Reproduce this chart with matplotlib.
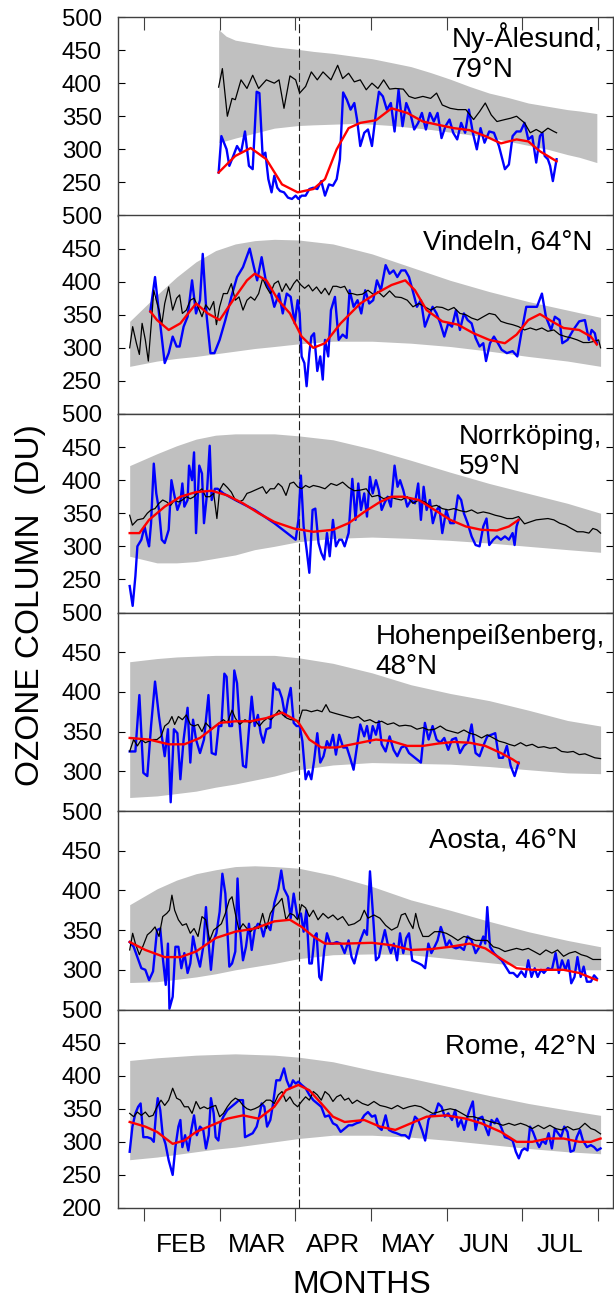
import matplotlib
matplotlib.use("Agg")
import matplotlib.pyplot as plt
from matplotlib.ticker import FixedLocator, NullFormatter

plt.rcParams['font.family'] = ['Liberation Sans', 'DejaVu Sans']

# ---------------- axis definitions (day of year 2020) ----------------
MONTH_STARTS = [32.0, 62.4, 92.8, 123.3, 153.7, 184.1, 214.5]
MONTH_LABELS = ['FEB', 'MAR', 'APR', 'MAY', 'JUN', 'JUL']
DASH_DAY = 94.3
XLIM = (21.5, 220.5)

STATION_NAMES = ["Ny-Ålesund,\n79°N", "Vindeln, 64°N", "Norrköping,\n59°N",
                 "Hohenpeißenberg,\n48°N", "Aosta, 46°N", "Rome, 42°N"]
Y_BOTTOMS = [200, 200, 200, 250, 250, 200]

# ---------------- climatological band ----------------
NY_BAND_DAYS = [62.0, 65.0, 68.7, 84.4, 94.1, 100.1, 108.0, 115.8, 123.7, 131.6, 139.4,
                147.3, 155.2, 163.0, 170.9, 178.8, 186.6, 194.5, 202.4, 207.1, 214.2]
NY_BAND_HI = [481, 471, 465, 455, 451, 448, 445, 441, 437, 431, 425, 416, 406, 395, 385, 378, 370, 365, 360, 358, 354]
NY_BAND_LO = [310, 313, 317, 332, 336, 337, 338, 339, 338, 336, 333, 330, 326, 322, 318, 312, 306, 300, 292, 288, 280]

BAND_DAYS = [26.2, 37.2, 45.1, 52.9, 60.8, 68.7, 76.5, 84.4, 94.1, 108.0, 123.7,
             139.4, 155.2, 170.9, 186.6, 202.4, 215.7]
VIN_BAND_HI = [340, 380, 407, 430, 447, 457, 462, 464, 463, 457, 442, 422, 402, 385, 370, 357, 346]
VIN_BAND_LO = [272, 280, 284, 287, 291, 295, 299, 302, 306, 310, 310, 307, 302, 295, 287, 280, 272]
NOR_BAND_HI = [422, 440, 452, 462, 468, 470, 470, 470, 467, 461, 447, 430, 412, 395, 380, 365, 350]
NOR_BAND_LO = [285, 275, 275, 277, 282, 287, 295, 300, 307, 312, 314, 312, 309, 305, 300, 295, 291]
HOH_BAND_HI = [438, 442, 444, 445, 446, 446, 446, 446, 443, 436, 424, 409, 398, 389, 377, 364, 357]
HOH_BAND_LO = [267, 269, 272, 275, 280, 284, 289, 294, 302, 308, 311, 310, 309, 306, 302, 298, 297]
AOS_BAND_HI = [382, 402, 413, 421, 426, 430, 431, 430, 428, 419, 405, 388, 375, 361, 348, 337, 329]
AOS_BAND_LO = [284, 285, 288, 291, 295, 300, 304, 308, 314, 319, 320, 319, 314, 309, 304, 300, 300]
ROM_BAND_HI = [423, 427, 429, 431, 432, 433, 432, 431, 428, 421, 408, 396, 383, 370, 358, 348, 340]
ROM_BAND_LO = [273, 277, 281, 285, 289, 292, 296, 300, 305, 310, 310, 307, 302, 296, 290, 285, 282]

# ---------------- Ny-Ålesund ----------------
NY_BLACK = [(62.0,394),(63.5,422),(65.5,350),(67.4,377),(68.7,375),(71.0,405),(73.4,392),(75.7,412),(78.1,392),(81.2,405),(84.4,400),(86.3,405),(88.3,362),(90.7,411),(93.0,405),(94.6,385),(97.0,395),(99.3,417),(101.7,405),(104.0,417),(107.2,405),(109.9,427),(111.9,407),(114.3,415),(116.6,402),(119.0,405),(121.4,390),(123.7,400),(126.1,392),(128.4,405),(130.8,391),(133.1,392),(136.3,391),(138.6,380),(141.0,377),(144.2,380),(147.3,377),(149.7,385),(152.0,367),(155.2,362),(158.3,360),(161.5,360),(164.6,345),(167.0,357),(169.3,370),(171.7,352),(174.0,342),(177.2,345),(179.5,347),(181.9,350),(185.1,340),(187.4,325),(189.8,330),(192.1,325),(194.5,332),(196.9,327),(198.0,325)]
NY_BLUE = [(62.0,265),(63.1,320),(65.2,300),(66.3,275),(67.9,290),(69.4,305),(71.0,295),(72.6,327),(74.2,275),(75.7,270),(77.3,387),(78.4,385),(79.7,290),(80.8,295),(82.0,255),(83.3,235),(84.4,260),(85.6,242),(86.7,237),(88.3,235),(89.9,227),(91.5,225),(93.0,230),(94.1,225),(95.4,230),(97.0,230),(98.5,240),(100.1,242),(101.7,240),(103.3,252),(104.8,230),(106.4,247),(108.0,245),(109.5,255),(110.8,285),(112.1,386),(113.6,375),(115.1,360),(116.6,370),(117.7,345),(119.0,305),(120.6,325),(122.1,330),(123.7,305),(125.3,355),(126.5,387),(128.1,380),(129.7,360),(131.3,370),(132.8,327),(134.4,390),(136.0,335),(137.5,370),(139.1,355),(140.7,330),(142.3,340),(143.8,355),(145.4,330),(147.0,355),(148.6,342),(150.1,355),(151.7,317),(153.3,335),(154.9,345),(156.4,325),(158.0,315),(159.6,340),(161.2,325),(162.7,360),(164.3,325),(165.9,300),(167.4,332),(169.0,310),(170.9,327),(172.8,325),(174.8,305),(177.2,270),(178.8,277),(180.3,320),(181.9,327),(183.5,327),(185.1,340),(186.6,315),(188.2,320),(189.8,280),(191.3,320),(192.3,325),(193.2,290),(194.5,285),(195.4,275),(196.5,252),(198.0,285)]
NY_RED = [(62.0,265),(68.7,290),(74.9,302),(81.2,285),(87.5,247),(93.8,235),(100.1,240),(104.8,255),(109.5,300),(114.3,332),(119.0,340),(125.3,344),(131.6,362),(137.9,355),(144.2,342),(150.4,337),(156.7,332),(163.0,329),(169.3,320),(175.6,309),(181.9,315),(186.6,312),(191.3,297),(198.0,282)]

# ---------------- Vindeln ----------------
VIN_BLACK = [(26.2,300),(27.4,332),(28.9,307),(30.1,290),(31.2,337),(32.5,312),(33.7,280),(34.8,332),(35.9,387),(36.9,372),(38.0,357),(39.1,335),(40.3,367),(41.9,392),(43.5,357),(45.1,375),(46.3,380),(47.4,352),(49.0,357),(50.6,372),(52.1,375),(53.7,362),(55.3,347),(56.8,365),(58.4,357),(60.0,370),(61.1,335),(62.4,362),(63.9,382),(65.5,382),(67.1,397),(68.7,372),(70.2,377),(71.8,357),(73.4,372),(74.9,377),(76.5,372),(78.1,382),(79.7,405),(81.2,392),(82.8,382),(84.4,397),(86.0,401),(87.5,385),(89.1,397),(90.7,387),(92.2,397),(93.5,403),(95.1,395),(96.6,390),(98.2,395),(99.8,386),(101.4,392),(103.3,382),(104.8,390),(106.4,380),(108.0,393),(109.5,393),(111.1,391),(112.7,393),(114.3,382),(115.8,382),(117.7,380),(119.8,381),(122.1,387),(124.5,380),(126.1,385),(128.4,377),(130.8,386),(133.1,377),(135.5,376),(137.9,372),(140.2,362),(142.6,367),(145.0,362),(147.3,357),(149.7,362),(152.0,361),(154.4,357),(156.7,361),(159.1,352),(161.5,350),(163.8,345),(166.2,342),(168.5,347),(170.9,352),(173.3,350),(175.6,340),(178.0,337),(180.3,335),(182.7,332),(185.1,327),(187.4,330),(189.8,327),(192.1,330),(194.5,325),(196.9,327),(199.2,320),(201.6,317),(203.9,315),(206.3,312),(208.7,308),(211.0,308),(213.4,310),(214.9,312),(215.7,300)]
VIN_BLUE = [(34.5,355),(36.4,407),(38.0,352),(40.3,277),(41.9,292),(43.5,317),(45.1,302),(46.3,302),(47.9,332),(49.5,347),(51.3,402),(52.9,352),(54.5,372),(55.6,442),(57.2,347),(58.7,292),(60.3,292),(62.4,312),(64.7,342),(67.1,377),(69.4,407),(71.8,422),(74.5,450),(76.2,422),(77.5,402),(79.3,437),(81.2,397),(82.8,387),(84.4,362),(86.3,382),(87.8,352),(89.4,382),(91.0,377),(92.6,337),(93.8,372),(94.6,352),(95.4,287),(96.5,277),(97.4,242),(98.5,292),(99.3,317),(100.4,322),(101.7,265),(102.9,287),(103.9,252),(104.8,312),(106.1,287),(107.2,357),(108.8,377),(110.3,312),(111.9,320),(113.5,315),(114.7,387),(116.3,362),(117.9,372),(119.4,352),(121.0,387),(122.6,367),(124.2,372),(125.7,402),(127.3,387),(129.2,425),(130.8,412),(132.4,417),(133.9,407),(135.5,417),(137.1,417),(138.6,407),(140.2,385),(141.8,362),(143.4,372),(145.0,332),(146.5,347),(148.1,362),(149.7,352),(151.2,337),(152.8,317),(154.4,337),(155.9,332),(157.5,357),(159.1,327),(160.7,352),(162.2,342),(163.8,337),(165.4,315),(167.0,302),(168.5,307),(169.6,280),(171.2,307),(172.8,317),(174.4,307),(175.9,297),(178.0,292),(180.3,295),(182.2,287),(183.8,322),(185.8,362),(188.2,362),(190.1,362),(192.1,382),(193.7,347),(195.8,327),(197.3,347),(199.2,342),(200.3,307),(202.4,312),(204.7,327),(207.1,340),(209.4,342),(211.0,312),(212.1,327),(213.4,322),(214.2,307)]
VIN_RED = [(34.5,355),(37.2,342),(41.9,327),(46.6,337),(52.9,367),(57.6,352),(62.4,342),(68.7,377),(73.4,402),(76.5,412),(81.2,402),(86.0,372),(90.7,352),(95.4,317),(100.1,300),(104.8,307),(111.1,337),(119.0,367),(125.3,382),(131.6,395),(137.1,402),(141.0,387),(145.7,357),(152.0,340),(158.3,335),(164.6,322),(170.9,312),(177.2,307),(181.9,320),(186.6,342),(191.3,351),(196.1,340),(200.8,330),(207.1,327),(211.8,317),(214.2,305)]

# ---------------- Norrköping ----------------
NOR_BLACK = [(26.2,347),(27.3,332),(29.3,340),(31.7,342),(33.3,350),(34.8,355),(36.4,357),(38.0,365),(39.5,370),(41.1,367),(42.7,362),(44.3,370),(45.8,367),(47.4,370),(49.0,375),(50.6,372),(52.1,375),(53.7,382),(55.3,387),(56.8,375),(58.4,375),(60.0,380),(61.3,342),(62.4,385),(63.9,395),(65.5,389),(67.1,382),(68.7,370),(70.2,367),(71.8,370),(73.4,380),(74.9,382),(77.3,386),(79.7,390),(81.2,380),(82.8,387),(84.4,387),(86.0,395),(87.5,390),(89.1,377),(90.7,395),(92.2,397),(93.8,390),(95.4,387),(97.0,392),(98.5,389),(100.1,392),(102.5,390),(104.8,387),(107.2,395),(109.5,392),(111.9,397),(114.3,389),(116.6,384),(119.0,385),(121.4,387),(123.7,375),(126.1,377),(128.4,372),(130.8,375),(133.1,372),(135.5,370),(137.9,375),(140.2,365),(142.6,370),(145.0,367),(147.3,360),(149.7,362),(152.0,357),(154.4,355),(156.7,357),(159.1,354),(161.5,352),(163.8,355),(166.2,350),(168.5,352),(170.9,350),(173.3,347),(175.6,345),(178.0,342),(180.3,342),(182.7,345),(185.1,334),(187.4,337),(189.8,340),(192.1,341),(194.5,342),(196.9,340),(199.2,335),(201.6,332),(203.9,327),(206.3,322),(208.7,322),(211.0,320),(212.6,327),(214.2,325),(215.7,320)]
NOR_BLUE = [(26.2,240),(27.4,210),(28.5,255),(29.3,300),(30.9,310),(32.2,330),(33.3,310),(34.0,300),(34.8,335),(35.9,425),(36.9,380),(38.0,355),(39.1,310),(40.3,305),(41.9,325),(43.0,400),(44.3,375),(45.4,355),(46.6,367),(47.4,395),(48.2,360),(49.5,370),(50.1,422),(51.3,400),(52.1,442),(52.9,320),(54.2,422),(55.3,410),(56.1,335),(57.2,375),(58.4,452),(59.2,370),(60.5,387),(61.6,387),(63.9,380),(68.7,370),(76.5,355),(84.4,335),(93.0,310),(94.1,340),(95.1,407),(96.2,330),(97.4,295),(98.5,260),(99.8,355),(100.9,357),(102.2,305),(103.3,290),(104.5,280),(105.6,320),(106.7,285),(108.0,340),(109.2,300),(110.5,310),(111.6,310),(112.7,300),(114.3,320),(115.8,402),(117.1,340),(118.2,395),(119.3,355),(120.6,380),(121.7,345),(122.9,405),(124.0,380),(125.3,400),(126.4,385),(127.6,355),(128.7,365),(130.0,375),(131.3,360),(132.8,422),(134.0,390),(135.0,400),(136.3,385),(137.9,360),(139.4,370),(141.0,365),(142.3,395),(143.4,340),(144.5,390),(145.7,355),(147.0,370),(148.2,335),(149.7,355),(150.8,360),(152.0,320),(153.6,355),(155.2,335),(156.7,335),(158.3,377),(159.6,370),(160.7,350),(162.2,335),(163.8,315),(165.4,302),(167.0,300),(168.5,330),(169.8,342),(170.9,302),(172.5,310),(174.0,315),(175.6,310),(177.2,315),(178.8,310),(180.3,320),(181.1,302),(181.9,330),(182.7,340)]
NOR_RED = [(26.2,320),(30.1,320),(34.0,340),(40.3,360),(46.6,375),(52.9,382),(59.2,384),(65.5,377),(71.8,365),(78.1,350),(84.4,337),(92.2,327),(100.1,322),(108.0,325),(114.3,335),(120.6,352),(126.9,367),(131.6,375),(136.3,375),(142.6,370),(148.9,355),(155.2,340),(161.5,330),(167.7,325),(174.0,324),(178.8,330),(182.7,340)]

# ---------------- Hohenpeißenberg ----------------
HOH_BLACK = [(26.2,325),(27.8,340),(29.3,332),(30.9,340),(32.5,336),(34.0,338),(35.6,340),(37.2,340),(38.8,344),(40.3,357),(41.9,361),(43.2,369),(44.3,359),(45.8,369),(47.4,365),(49.0,371),(50.6,359),(52.1,357),(53.7,359),(55.3,350),(56.8,361),(59.2,353),(61.6,359),(63.9,365),(65.5,361),(67.4,377),(68.7,367),(70.5,359),(72.6,365),(74.6,361),(76.5,365),(78.4,357),(80.0,363),(81.6,367),(83.1,365),(84.7,371),(86.3,377),(87.8,371),(89.4,367),(91.0,365),(92.6,365),(94.1,361),(95.7,377),(97.3,377),(99.3,375),(101.7,377),(103.6,375),(105.2,384),(106.7,375),(108.8,373),(111.1,371),(113.5,369),(115.8,367),(118.2,369),(120.6,363),(122.9,365),(125.3,361),(127.6,363),(130.0,359),(132.4,361),(134.7,357),(137.1,358),(139.4,357),(141.8,353),(144.2,355),(146.5,352),(148.9,353),(151.2,357),(153.6,352),(155.9,350),(158.3,348),(160.7,352),(163.0,348),(165.4,346),(167.8,342),(170.1,346),(172.5,342),(174.8,338),(177.2,336),(178.8,334),(181.1,332),(183.5,336),(185.8,332),(188.2,334),(190.6,330),(192.9,331),(195.3,329),(197.6,330),(200.0,325),(202.4,324),(204.7,325),(207.1,321),(209.4,322),(211.8,319),(213.4,317),(215.7,316)]
HOH_BLUE = [(26.2,325),(28.5,325),(30.1,396),(31.7,298),(33.3,294),(34.8,357),(36.4,413),(38.0,369),(39.5,336),(40.3,319),(41.6,353),(42.7,261),(44.0,353),(45.4,348),(46.6,290),(47.9,340),(49.5,380),(50.6,311),(51.7,365),(52.9,340),(54.5,323),(56.1,340),(57.9,396),(59.2,323),(60.8,321),(62.0,357),(63.1,357),(64.3,423),(65.2,419),(66.3,357),(67.4,357),(68.3,427),(69.4,411),(70.5,357),(71.8,307),(73.0,305),(74.3,357),(75.3,394),(76.5,357),(77.8,371),(78.9,348),(80.0,336),(81.2,353),(82.8,355),(84.1,411),(85.2,403),(86.3,403),(87.5,392),(88.8,369),(89.9,390),(91.0,405),(92.2,361),(93.4,357),(94.6,357),(95.7,338),(97.0,290),(98.2,300),(99.3,290),(100.4,313),(101.7,348),(102.9,311),(104.2,319),(105.6,338),(106.7,330),(108.0,346),(109.2,321),(110.5,346),(112.1,330),(113.6,330),(115.1,315),(116.3,302),(117.7,332),(119.0,359),(120.6,344),(121.7,357),(122.9,336),(124.0,357),(125.3,346),(126.5,363),(127.6,334),(129.2,325),(130.8,344),(132.4,327),(133.9,319),(135.5,330),(137.1,332),(138.6,323),(140.2,319),(141.8,315),(143.4,311),(145.0,361),(146.5,340),(148.1,357),(149.7,340),(151.2,336),(152.8,342),(154.4,327),(155.9,340),(157.5,342),(159.1,323),(160.7,332),(162.2,336),(163.8,359),(165.4,323),(167.0,319),(168.5,332),(170.1,344),(171.7,346),(173.3,348),(174.8,317),(176.4,317),(178.0,332),(179.5,307),(181.1,294),(182.7,311)]
HOH_RED = [(26.2,342),(34.0,340),(41.9,334),(48.2,334),(54.5,342),(62.4,361),(68.7,363),(74.9,363),(81.2,367),(87.5,374),(93.8,363),(98.5,340),(103.3,330),(109.5,330),(115.8,334),(125.3,340),(131.6,338),(137.9,332),(144.2,332),(150.4,335),(156.7,337),(163.0,336),(169.3,332),(175.6,323),(180.3,315),(182.7,310)]

# ---------------- Aosta ----------------
AOS_BLACK = [(26.2,325),(27.4,346),(28.5,333),(30.1,319),(31.7,331),(33.3,344),(34.8,348),(36.4,354),(38.0,342),(39.5,367),(41.1,371),(42.2,375),(43.2,394),(44.3,375),(45.8,363),(47.4,356),(49.0,358),(50.6,346),(52.1,352),(53.7,342),(55.3,367),(56.8,363),(58.4,337),(60.0,350),(61.6,354),(63.1,358),(64.7,371),(66.3,388),(67.4,392),(68.7,371),(70.2,350),(71.8,358),(73.4,352),(74.9,348),(76.5,354),(78.1,352),(79.7,371),(81.2,352),(82.8,371),(84.4,379),(86.0,384),(87.5,390),(89.1,363),(90.7,371),(92.2,369),(93.8,363),(95.4,382),(97.0,378),(98.5,367),(100.1,375),(102.0,363),(104.0,371),(106.1,365),(108.0,369),(109.9,363),(111.9,367),(114.3,356),(116.6,358),(119.0,363),(120.6,375),(122.1,365),(124.5,369),(126.9,365),(129.2,356),(131.6,350),(134.0,354),(135.5,369),(137.1,371),(138.6,361),(140.2,352),(141.3,371),(142.6,354),(144.2,342),(146.5,342),(148.9,348),(151.2,348),(153.6,346),(155.9,342),(158.3,337),(160.7,342),(163.0,340),(165.4,337),(167.8,337),(170.1,337),(172.5,329),(174.8,327),(177.2,323),(179.5,325),(181.9,327),(184.3,325),(186.6,327),(189.0,323),(191.3,319),(193.7,325),(196.1,321),(198.4,325),(200.8,317),(203.1,321),(205.5,323),(207.9,319),(210.2,317),(212.6,313),(215.7,313)]
AOS_BLUE = [(26.2,335),(27.8,329),(29.3,316),(30.9,302),(32.5,300),(34.0,287),(35.6,298),(37.2,350),(38.5,352),(39.5,316),(40.7,281),(41.6,333),(42.2,251),(43.5,266),(44.6,329),(45.8,329),(47.0,302),(48.2,321),(49.5,296),(50.6,308),(51.7,342),(52.9,323),(54.5,304),(55.8,329),(56.9,379),(57.6,346),(58.9,300),(60.0,337),(61.1,346),(62.4,373),(63.5,421),(64.7,396),(65.5,350),(66.3,304),(67.4,308),(68.7,323),(69.6,415),(70.5,354),(71.8,312),(73.0,329),(74.2,358),(75.3,325),(76.5,350),(77.8,358),(78.9,356),(80.0,342),(81.2,358),(82.8,350),(84.4,384),(86.0,402),(87.2,425),(88.3,402),(89.9,392),(91.0,365),(92.2,396),(93.8,365),(95.1,371),(96.2,348),(97.3,375),(98.5,308),(99.5,308),(100.6,342),(101.4,346),(102.5,291),(103.3,287),(104.5,325),(105.6,346),(106.9,333),(108.0,333),(109.5,335),(111.1,333),(112.7,321),(114.3,337),(115.5,316),(116.6,308),(117.9,325),(119.0,337),(120.6,350),(121.7,344),(122.9,424),(124.0,375),(125.3,312),(126.5,316),(127.6,333),(128.9,350),(130.0,333),(131.3,321),(132.5,333),(133.8,312),(135.0,346),(136.3,321),(137.5,340),(138.6,346),(139.9,312),(141.3,310),(142.6,308),(143.8,306),(145.1,302),(146.4,333),(147.6,321),(148.9,329),(150.1,337),(151.4,354),(152.3,346),(153.6,329),(154.9,337),(156.1,329),(157.5,327),(159.1,329),(160.7,325),(162.2,342),(163.8,337),(165.4,321),(167.0,329),(168.5,342),(169.3,333),(170.1,379),(171.2,329),(172.8,321),(174.4,316),(175.9,312),(177.5,304),(179.1,296),(180.6,296),(182.2,291),(183.8,298),(185.4,291),(186.6,312),(187.9,291),(189.2,302),(190.4,291),(191.7,300),(192.9,296),(194.5,302),(196.1,300),(197.6,321),(198.9,296),(200.2,312),(201.6,300),(202.7,312),(203.9,283),(205.2,291),(206.4,316),(207.7,291),(208.9,304),(210.2,285),(211.8,285),(213.1,293),(214.2,289)]
AOS_RED = [(26.2,335),(32.5,325),(40.3,316),(46.6,316),(52.9,323),(60.8,340),(68.7,348),(76.5,352),(84.4,361),(90.7,363),(95.4,354),(100.1,342),(104.8,333),(112.7,333),(123.7,334),(131.6,331),(139.4,325),(147.3,326),(155.2,329),(163.0,333),(169.3,327),(175.6,314),(181.9,302),(188.2,300),(194.5,300),(200.8,300),(207.1,296),(214.2,287)]

# ---------------- Rome ----------------
ROM_BLACK = [(26.2,343),(27.8,338),(29.3,345),(30.9,340),(32.5,345),(34.0,338),(35.6,340),(37.2,353),(38.8,363),(40.3,355),(41.9,363),(43.5,381),(45.1,366),(46.6,363),(48.2,353),(49.8,353),(51.3,343),(52.9,361),(54.5,350),(56.1,353),(57.6,350),(59.2,353),(60.8,355),(62.4,338),(63.9,343),(65.5,353),(67.1,361),(68.7,366),(70.2,363),(71.8,355),(73.4,350),(74.9,348),(76.5,350),(78.1,353),(79.7,358),(81.2,363),(82.8,363),(84.4,358),(86.0,371),(87.5,376),(89.1,361),(90.7,368),(92.2,358),(93.8,353),(95.4,361),(97.0,368),(98.5,363),(100.1,376),(101.7,371),(103.3,363),(104.8,376),(106.4,371),(108.0,361),(109.5,368),(111.1,371),(112.7,363),(114.3,366),(115.8,358),(117.7,363),(119.8,358),(122.1,355),(124.5,361),(126.9,355),(129.2,353),(131.6,350),(134.0,355),(136.3,350),(138.6,353),(141.0,355),(143.4,353),(145.7,348),(148.1,343),(150.4,345),(152.8,348),(155.2,350),(157.5,348),(159.9,343),(162.2,338),(164.6,338),(167.0,335),(169.3,333),(171.7,330),(174.0,328),(176.4,325),(178.8,328),(181.1,325),(183.5,328),(185.8,325),(188.2,320),(190.6,325),(192.9,320),(195.3,325),(197.6,320),(200.0,318),(202.4,323),(204.7,318),(207.1,320),(209.4,328),(211.8,320),(213.4,318),(215.7,312)]
ROM_BLUE = [(26.2,285),(27.3,323),(28.5,343),(29.6,353),(30.6,358),(31.7,307),(33.3,307),(34.8,305),(35.9,300),(36.9,348),(37.5,366),(38.5,348),(39.5,310),(40.6,297),(41.9,272),(43.5,250),(44.6,292),(45.8,323),(46.6,333),(47.4,292),(48.5,310),(49.8,287),(51.0,318),(52.1,340),(53.2,310),(54.5,323),(55.8,318),(56.9,290),(58.0,310),(58.9,366),(60.0,343),(60.8,307),(61.9,302),(62.7,328),(63.9,338),(65.5,348),(67.1,353),(68.7,358),(70.2,363),(71.8,363),(72.6,307),(74.2,310),(75.7,313),(77.3,323),(78.4,340),(79.3,358),(80.4,353),(81.5,323),(82.8,333),(83.7,353),(85.2,393),(86.7,393),(88.3,411),(89.4,393),(90.7,381),(91.9,393),(93.0,388),(94.1,391),(95.4,386),(97.0,381),(98.5,371),(100.1,363),(101.7,358),(103.3,353),(104.8,338),(106.4,340),(108.0,328),(109.5,325),(111.1,315),(112.7,320),(114.3,325),(115.8,325),(117.4,328),(119.0,330),(120.6,340),(122.1,345),(123.7,338),(125.0,340),(126.1,323),(127.6,318),(129.2,340),(130.5,318),(132.0,315),(133.6,313),(135.5,310),(137.1,310),(138.6,305),(139.9,323),(141.0,338),(142.3,333),(143.8,318),(145.1,302),(146.4,333),(147.3,340),(148.9,340),(150.4,358),(151.7,353),(153.0,338),(154.4,343),(155.9,333),(157.2,348),(158.3,323),(159.6,333),(160.8,318),(162.1,338),(163.0,348),(164.3,361),(165.4,318),(166.5,335),(168.1,338),(169.3,323),(170.6,310),(171.8,333),(173.1,328),(174.0,335),(175.6,323),(177.2,307),(178.8,305),(180.3,302),(181.6,285),(182.8,275),(184.0,287),(185.1,290),(186.3,287),(187.3,323),(188.5,315),(189.8,302),(191.0,292),(192.3,302),(193.6,297),(194.8,313),(196.1,290),(197.3,320),(198.6,313),(199.8,307),(201.1,323),(202.4,315),(203.6,285),(204.9,287),(206.1,307),(207.4,318),(208.6,302),(210.2,292),(211.8,295),(213.1,292),(214.3,287),(215.7,290)]
ROM_RED = [(26.2,330),(32.5,323),(37.2,315),(43.5,297),(48.2,302),(52.9,315),(59.2,325),(65.5,335),(71.8,340),(78.1,335),(84.4,353),(89.1,378),(94.1,386),(98.5,378),(103.3,358),(108.0,338),(112.7,330),(120.6,333),(126.9,323),(133.1,318),(139.4,328),(145.7,338),(153.6,340),(161.5,335),(167.7,328),(175.6,315),(181.9,300),(188.2,300),(194.5,305),(200.8,305),(207.1,300),(211.8,300),(215.7,305)]

PANELS = [
    (NY_BAND_DAYS, NY_BAND_LO, NY_BAND_HI, NY_BLACK, NY_BLUE, NY_RED),
    (BAND_DAYS, VIN_BAND_LO, VIN_BAND_HI, VIN_BLACK, VIN_BLUE, VIN_RED),
    (BAND_DAYS, NOR_BAND_LO, NOR_BAND_HI, NOR_BLACK, NOR_BLUE, NOR_RED),
    (BAND_DAYS, HOH_BAND_LO, HOH_BAND_HI, HOH_BLACK, HOH_BLUE, HOH_RED),
    (BAND_DAYS, AOS_BAND_LO, AOS_BAND_HI, AOS_BLACK, AOS_BLUE, AOS_RED),
    (BAND_DAYS, ROM_BAND_LO, ROM_BAND_HI, ROM_BLACK, ROM_BLUE, ROM_RED),
]
# label anchor (axes fraction, right edge / top)
LABEL_POS = [(0.980, 0.975), (0.960, 0.930), (0.980, 0.950),
             (0.984, 0.942), (0.929, 0.918), (0.968, 0.878)]

W, H = 614, 1301
fig = plt.figure(figsize=(W / 100, H / 100), dpi=100)
left, right = 118 / W, 612.5 / W
top, bottom = 1 - 17 / H, 1 - 1208 / H
ph = (top - bottom) / 6
SPINE = '#404040'

for i, (bd, blo, bhi, blk, blu, red) in enumerate(PANELS):
    ax = fig.add_axes([left, top - (i + 1) * ph, right - left, ph])
    ax.fill_between(bd, blo, bhi, color='#c0c0c0', lw=0, zorder=1)
    ax.axvline(DASH_DAY, color='#202020', lw=0.8, dashes=(8, 3), zorder=2)
    ax.plot([p[0] for p in blk], [p[1] for p in blk], color='black', lw=0.9, zorder=4)
    ax.plot([p[0] for p in blu], [p[1] for p in blu], color='#0000ff', lw=1.7, zorder=3)
    ax.plot([p[0] for p in red], [p[1] for p in red], color='#ff0000', lw=1.7, zorder=5)
    ylo = Y_BOTTOMS[i]
    ax.set_xlim(*XLIM)
    ax.set_ylim(ylo, 500)
    yt = list(range(ylo, 501, 50))
    ax.set_yticks(yt)
    if i < 5:
        ax.set_yticklabels([''] + [str(v) for v in yt[1:]])
    else:
        ax.set_yticklabels([str(v) for v in yt])
    ax.tick_params(axis='y', direction='in', length=5, width=0.8, left=True, right=True,
                   labelsize=17.3, pad=11.5, colors='black')
    for sp in ax.spines.values():
        sp.set_color(SPINE)
        sp.set_linewidth(1.0)
    ax.xaxis.set_major_locator(FixedLocator(MONTH_STARTS))
    ax.xaxis.set_major_formatter(NullFormatter())
    if i == 0:
        ax.tick_params(axis='x', which='major', direction='in', top=True, bottom=False,
                       length=9, width=0.8, color=SPINE)
    elif i == 5:
        ax.tick_params(axis='x', which='major', direction='out', top=False, bottom=True,
                       length=9, width=0.8, color=SPINE)
        xform = ax.get_xaxis_transform()
        for k, lab in enumerate(MONTH_LABELS):
            mid = (MONTH_STARTS[k] + MONTH_STARTS[k + 1]) / 2
            ax.text(mid, -(1252 - 1208) / 198.5, lab, transform=xform, ha='center',
                    va='baseline', fontsize=19, clip_on=False)
    else:
        ax.tick_params(axis='x', which='both', top=False, bottom=False)
    lx, ly = LABEL_POS[i]
    ax.text(lx, ly, STATION_NAMES[i], transform=ax.transAxes, ha='right', va='top',
            multialignment='left', fontsize=20, zorder=6)

fig.text(362 / W, 1 - 1293 / H, 'MONTHS', ha='center', va='baseline', fontsize=23)
fig.text(31 / W, 1 - 605 / H, 'OZONE COLUMN  (DU)', ha='center', va='center',
         rotation=90, fontsize=24)

fig.savefig('out.png', dpi=100)
